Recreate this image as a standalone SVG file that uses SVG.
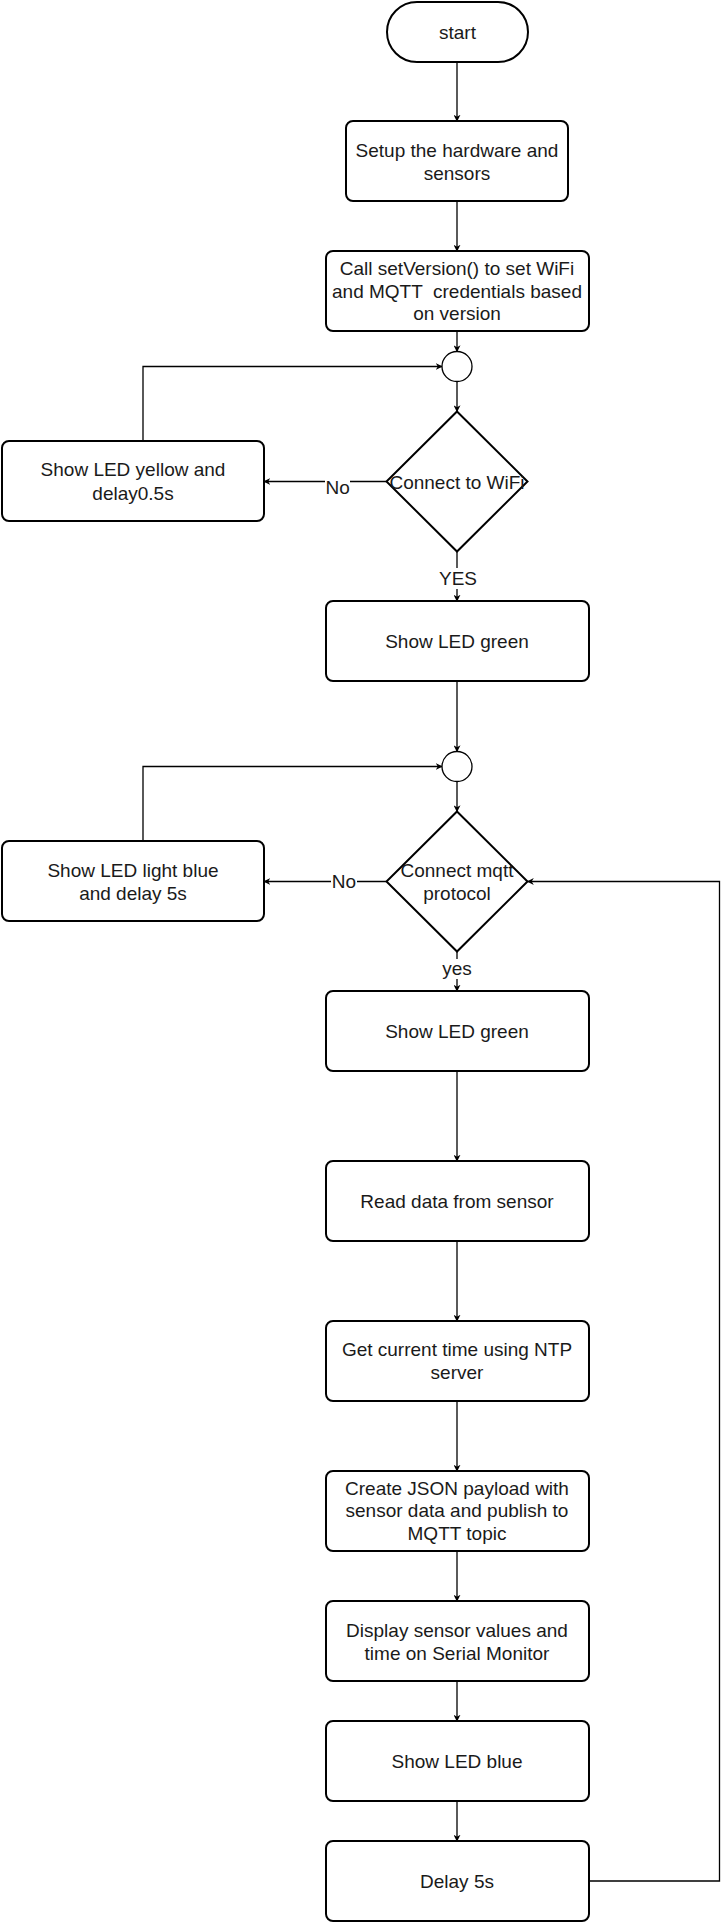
<svg xmlns="http://www.w3.org/2000/svg" width="721" height="1922" viewBox="0 0 721 1922">
<style>
.node{fill:#fff;stroke:#000;stroke-width:2}
.circ{fill:#fff;stroke:#000;stroke-width:1.3}
.edge{fill:none;stroke:#000;stroke-width:1.3}
text{font-family:"Liberation Sans",Arial,sans-serif;font-size:19px;fill:#1a1a1a;text-anchor:middle}
.lblbg{fill:#fff;stroke:none}
</style>
<defs>
<marker id="arr" viewBox="0 0 10 10" refX="9" refY="5" markerWidth="7" markerHeight="7" orient="auto" markerUnits="userSpaceOnUse">
<path d="M0,0 L10,5 L0,10 L3,5 z" fill="#000"/>
</marker>
</defs>
<rect width="721" height="1922" fill="#fff"/>
<g id="connectors">
<path class="edge" d="M457,62 V121" marker-end="url(#arr)"/>
<path class="edge" d="M457,201 V251" marker-end="url(#arr)"/>
<path class="edge" d="M457,331 V351.5" marker-end="url(#arr)"/>
<path class="edge" d="M457,381.5 V411.5" marker-end="url(#arr)"/>
<path class="edge" d="M386.5,481.5 H264" marker-end="url(#arr)"/>
<path class="edge" d="M143,441 V366.5 H442" marker-end="url(#arr)"/>
<path class="edge" d="M457,551.5 V601" marker-end="url(#arr)"/>
<path class="edge" d="M457,681 V751.5" marker-end="url(#arr)"/>
<path class="edge" d="M457,781.5 V811.5" marker-end="url(#arr)"/>
<path class="edge" d="M386.5,881.5 H264" marker-end="url(#arr)"/>
<path class="edge" d="M143,841 V766.5 H442" marker-end="url(#arr)"/>
<path class="edge" d="M457,951.5 V991" marker-end="url(#arr)"/>
<path class="edge" d="M457,1071 V1161" marker-end="url(#arr)"/>
<path class="edge" d="M457,1241 V1321" marker-end="url(#arr)"/>
<path class="edge" d="M457,1401 V1471" marker-end="url(#arr)"/>
<path class="edge" d="M457,1551 V1601" marker-end="url(#arr)"/>
<path class="edge" d="M457,1681 V1721" marker-end="url(#arr)"/>
<path class="edge" d="M457,1801 V1841" marker-end="url(#arr)"/>
<path class="edge" d="M589,1881 H719.5 V881.5 H527.5" marker-end="url(#arr)"/>
<g id="edge-labels">
<rect class="lblbg" x="325" y="475" width="25" height="22"/>
<text x="337.7" y="493.5">No</text>
<rect class="lblbg" x="331" y="871" width="26" height="21"/>
<text x="344" y="887.5">No</text>
<rect class="lblbg" x="438" y="568" width="40" height="21"/>
<text x="458" y="585">YES</text>
<rect class="lblbg" x="443" y="959" width="28" height="20"/>
<text x="457" y="975">yes</text>
</g>
</g>
<g id="start">
<rect class="node" x="387" y="2" width="141" height="60" rx="30" ry="30"/>
<text x="457.5" y="38.5">start</text>
</g>
<g id="setup">
<rect class="node" x="346" y="121" width="222" height="80" rx="7"/>
<text x="457" y="156.5">Setup the hardware and</text>
<text x="457" y="179.5">sensors</text>
</g>
<g id="setversion">
<rect class="node" x="326" y="251" width="263" height="80" rx="7"/>
<text x="457" y="274.5">Call setVersion() to set WiFi</text>
<text x="457" y="297.5" xml:space="preserve">and MQTT  credentials based</text>
<text x="457" y="320">on version</text>
</g>
<g id="merge1">
<circle class="circ" cx="457" cy="366.5" r="15"/>
</g>
<g id="wifi">
<polygon class="node" points="457,411.5 527.5,481.5 457,551.5 386.5,481.5"/>
<text x="457" y="488.5">Connect to WiFi</text>
</g>
<g id="yellow">
<rect class="node" x="2" y="441" width="262" height="80" rx="7"/>
<text x="133" y="476">Show LED yellow and</text>
<text x="133" y="499.5">delay0.5s</text>
</g>
<g id="green1">
<rect class="node" x="326" y="601" width="263" height="80" rx="7"/>
<text x="457" y="647.5">Show LED green</text>
</g>
<g id="merge2">
<circle class="circ" cx="457" cy="766.5" r="15"/>
</g>
<g id="mqtt">
<polygon class="node" points="457,811.5 527.5,881.5 457,951.5 386.5,881.5"/>
<text x="457" y="876.5">Connect mqtt</text>
<text x="457" y="899.5">protocol</text>
</g>
<g id="lightblue">
<rect class="node" x="2" y="841" width="262" height="80" rx="7"/>
<text x="133" y="876.5">Show LED light blue</text>
<text x="133" y="899.5">and delay 5s</text>
</g>
<g id="green2">
<rect class="node" x="326" y="991" width="263" height="80" rx="7"/>
<text x="457" y="1037.5">Show LED green</text>
</g>
<g id="read">
<rect class="node" x="326" y="1161" width="263" height="80" rx="7"/>
<text x="457" y="1208">Read data from sensor</text>
</g>
<g id="time">
<rect class="node" x="326" y="1321" width="263" height="80" rx="7"/>
<text x="457" y="1356">Get current time using NTP</text>
<text x="457" y="1379">server</text>
</g>
<g id="json">
<rect class="node" x="326" y="1471" width="263" height="80" rx="7"/>
<text x="457" y="1494.5">Create JSON payload with</text>
<text x="457" y="1517">sensor data and publish to</text>
<text x="457" y="1540">MQTT topic</text>
</g>
<g id="display">
<rect class="node" x="326" y="1601" width="263" height="80" rx="7"/>
<text x="457" y="1636.5">Display sensor values and</text>
<text x="457" y="1659.5">time on Serial Monitor</text>
</g>
<g id="blue">
<rect class="node" x="326" y="1721" width="263" height="80" rx="7"/>
<text x="457" y="1767.5">Show LED blue</text>
</g>
<g id="delay">
<rect class="node" x="326" y="1841" width="263" height="80" rx="7"/>
<text x="457" y="1887.5">Delay 5s</text>
</g>
</svg>
